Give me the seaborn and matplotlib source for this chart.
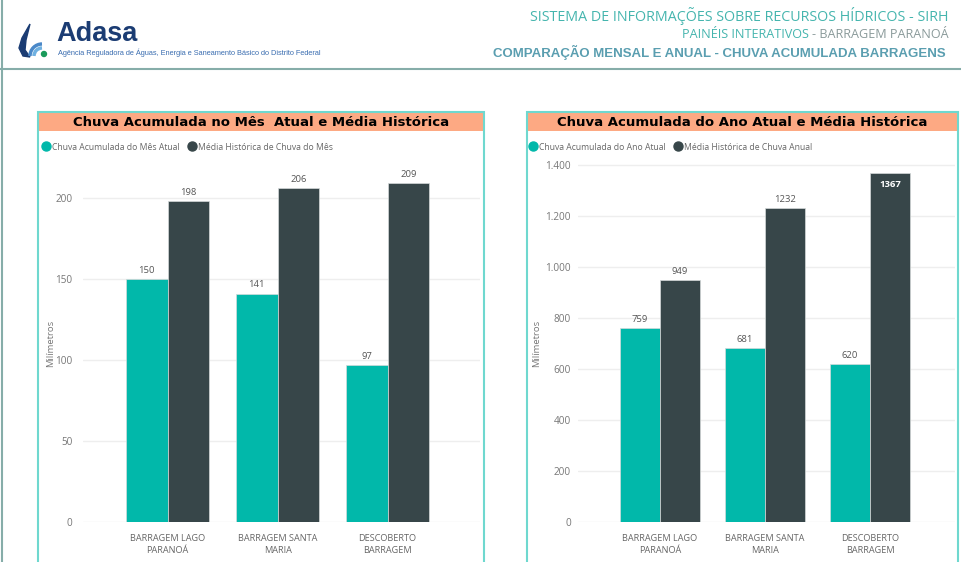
import matplotlib
matplotlib.use("Agg")
import matplotlib.pyplot as plt
import matplotlib.patches as mpatches
from matplotlib.lines import Line2D
from matplotlib.ticker import FuncFormatter, FixedLocator
import seaborn as sns
import pandas as pd

# ---------------- data ----------------
categories = ["BARRAGEM LAGO\nPARANOÁ", "BARRAGEM SANTA\nMARIA", "DESCOBERTO\nBARRAGEM"]
mes_atual = [150, 141, 97]
mes_media = [198, 206, 209]
ano_atual = [759, 681, 620]
ano_media = [949, 1232, 1367]
serie_mes = ["Chuva Acumulada do Mês Atual", "Média Histórica de Chuva do Mês"]
serie_ano = ["Chuva Acumulada do Ano Atual", "Média Histórica de Chuva Anual"]
ticks_mes = [0, 50, 100, 150, 200]
ticks_ano = [0, 200, 400, 600, 800, 1000, 1200, 1400]

TEAL = "#01B8AA"
DARK = "#374649"
SALMON = "#FDA983"
BORDER = "#6FD8CF"
GRAY = "#777777"

sns.set_theme(style="white")
plt.rcParams["font.family"] = ["Open Sans", "DejaVu Sans"]

W, H = 961, 562
fig = plt.figure(figsize=(W / 100, H / 100), dpi=100)
fig.patch.set_facecolor("white")


def fx(x):
    return x / W


def fy(y):
    return 1 - y / H


def add_axes_px(l, t, r, b):
    return fig.add_axes([fx(l), fy(b), (r - l) / W, (b - t) / H])


# ---------------- page decoration ----------------
fig.add_artist(Line2D([fx(0), fx(W)], [fy(69), fy(69)], color="#86ADA9", lw=1.5))
fig.add_artist(Line2D([fx(1.5), fx(1.5)], [fy(0), fy(H)], color="#86ADA9", lw=1.5))

# logo (drop)
drop = mpatches.Polygon([[fx(30), fy(24)], [fx(22), fy(38)], [fx(19), fy(48)], [fx(23), fy(56)],
                         [fx(30), fy(57)], [fx(25), fy(50)], [fx(26), fy(40)]],
                        closed=True, transform=fig.transFigure, color="#1B3C73")
fig.add_artist(drop)
for r, c in [(12, "#4A88C8"), (8, "#6FB0E0")]:
    fig.add_artist(mpatches.Arc((fx(42), fy(56)), 2 * r / W, 2 * r / H, theta1=90, theta2=180,
                                transform=fig.transFigure, color=c, lw=2.5))
fig.add_artist(mpatches.Ellipse((fx(44), fy(54)), 5 / W, 5 / H, transform=fig.transFigure, color="#1A9A5A"))

fig.text(fx(56), fy(34), "Adasa", fontsize=19.5, fontweight="bold", color="#1B3C73",
         family=["Liberation Sans", "DejaVu Sans"], va="center", ha="left")
fig.text(fx(58), fy(53), "Agência Reguladora de Águas, Energia e Saneamento Básico do Distrito Federal",
         fontsize=5.3, color="#3A6DB0", family=["Liberation Sans", "DejaVu Sans"], va="center", ha="left")

fig.text(fx(949), fy(16), "SISTEMA DE INFORMAÇÕES SOBRE RECURSOS HÍDRICOS - SIRH", fontsize=10.3,
         color="#45B5AE", ha="right", va="center")
t_gray = fig.text(fx(949), fy(35), "- BARRAGEM PARANOÁ", fontsize=9.1, color="#8A9A9A",
                  ha="right", va="center")
renderer = fig.canvas.get_renderer()
bb = t_gray.get_window_extent(renderer)
fig.text(fx(bb.x0 - 3), fy(35), "PAINÉIS INTERATIVOS", fontsize=9.1, color="#45B5AE",
         ha="right", va="center")
fig.text(fx(946), fy(52), "COMPARAÇÃO MENSAL E ANUAL - CHUVA ACUMULADA BARRAGENS", fontsize=9.55,
         fontweight="bold", color="#5A9EB0", family=["Liberation Sans", "DejaVu Sans"],
         ha="right", va="center")


# ---------------- panels ----------------
def panel(l, r, title, title_size):
    fig.add_artist(mpatches.Rectangle((fx(l), fy(131)), (r - l) / W, 20 / H, transform=fig.transFigure,
                                      facecolor=SALMON, edgecolor="none"))
    fig.add_artist(mpatches.Rectangle((fx(l), fy(575)), (r - l) / W, (575 - 111.5) / H,
                                      transform=fig.transFigure, facecolor="none",
                                      edgecolor=BORDER, lw=1.5))
    fig.text(fx((l + r) / 2), fy(122), title, fontsize=title_size, fontweight="bold", color="black",
             family=["DejaVu Sans"], ha="center", va="center")


panel(38, 484, "Chuva Acumulada no Mês  Atual e Média Histórica", 9.5)
panel(526.5, 958, "Chuva Acumulada do Ano Atual e Média Histórica", 9.5)


def legend(x, y, labels):
    handles = [Line2D([], [], marker="o", ls="none", markersize=6.5, color=c) for c in (TEAL, DARK)]
    fig.legend(handles, labels, loc="center left", bbox_to_anchor=(fx(x), fy(y)), ncol=2,
               frameon=False, fontsize=6.2, handletextpad=0.3, columnspacing=1.0,
               borderaxespad=0, borderpad=0, labelcolor="#666666", handlelength=0.8)


legend(43, 147, serie_mes)
legend(530, 147, serie_ano)


def chart(ax, atual, media, series, ylim, ticks, xlim, fmt, pad):
    df = pd.DataFrame({
        "Barragem": categories * 2,
        "mm": list(atual) + list(media),
        "Série": [series[0]] * len(categories) + [series[1]] * len(categories),
    })
    sns.barplot(data=df, x="Barragem", y="mm", hue="Série", palette=[TEAL, DARK], width=0.76,
                gap=0, saturation=1, ax=ax, legend=False, edgecolor="#D5DADA", linewidth=0.5,
                errorbar=None)
    ax.set_ylim(*ylim)
    ax.set_xlim(*xlim)
    ax.yaxis.set_major_locator(FixedLocator(ticks))
    ax.yaxis.set_major_formatter(FuncFormatter(fmt))
    ax.grid(axis="y", color="#EEEEEE", lw=1)
    ax.set_axisbelow(True)
    for s in ax.spines.values():
        s.set_visible(False)
    ax.tick_params(axis="y", length=0, pad=pad, labelsize=7.2, labelcolor=GRAY)
    ax.tick_params(axis="x", length=0, pad=8.5, labelsize=6.6, labelcolor="#666666")
    for lab in ax.get_xticklabels():
        lab.set_linespacing(1.5)
    ax.set_xlabel("")
    ax.set_ylabel("Milímetros", fontsize=6.8, color=GRAY)
    ax.set_facecolor("none")
    fig.canvas.draw()
    ax_top_px = ax.get_window_extent().y1
    for cont in ax.containers:
        for bar in cont:
            h = bar.get_height()
            xc = bar.get_x() + bar.get_width() / 2
            bar_top_px = ax.transData.transform((xc, h))[1]
            if ax_top_px - bar_top_px < 16:
                ax.annotate(f"{h:.0f}", (xc, h), xytext=(0, -5), textcoords="offset points",
                            ha="center", va="top", fontsize=6.8, color="white", fontweight="bold")
            else:
                ax.annotate(f"{h:.0f}", (xc, h), xytext=(0, 3), textcoords="offset points",
                            ha="center", va="bottom", fontsize=6.8, color="#555555")


ax1 = add_axes_px(83, 160, 480, 522)
chart(ax1, mes_atual, mes_media, serie_mes, (0, 223.5), ticks_mes, (-0.77, 2.84),
      lambda v, p: f"{v:.0f}", 7.5)
ax1.yaxis.set_label_coords(fx(55), fy(343), transform=fig.transFigure)

ax2 = add_axes_px(578, 160, 955, 522)
chart(ax2, ano_atual, ano_media, serie_ano, (0, 1419), ticks_ano, (-0.78, 2.81),
      lambda v, p: f"{v:,.0f}".replace(",", "."), 5.0)
ax2.yaxis.set_label_coords(fx(541), fy(343), transform=fig.transFigure)

fig.savefig("out.png", dpi=100, facecolor="white")
